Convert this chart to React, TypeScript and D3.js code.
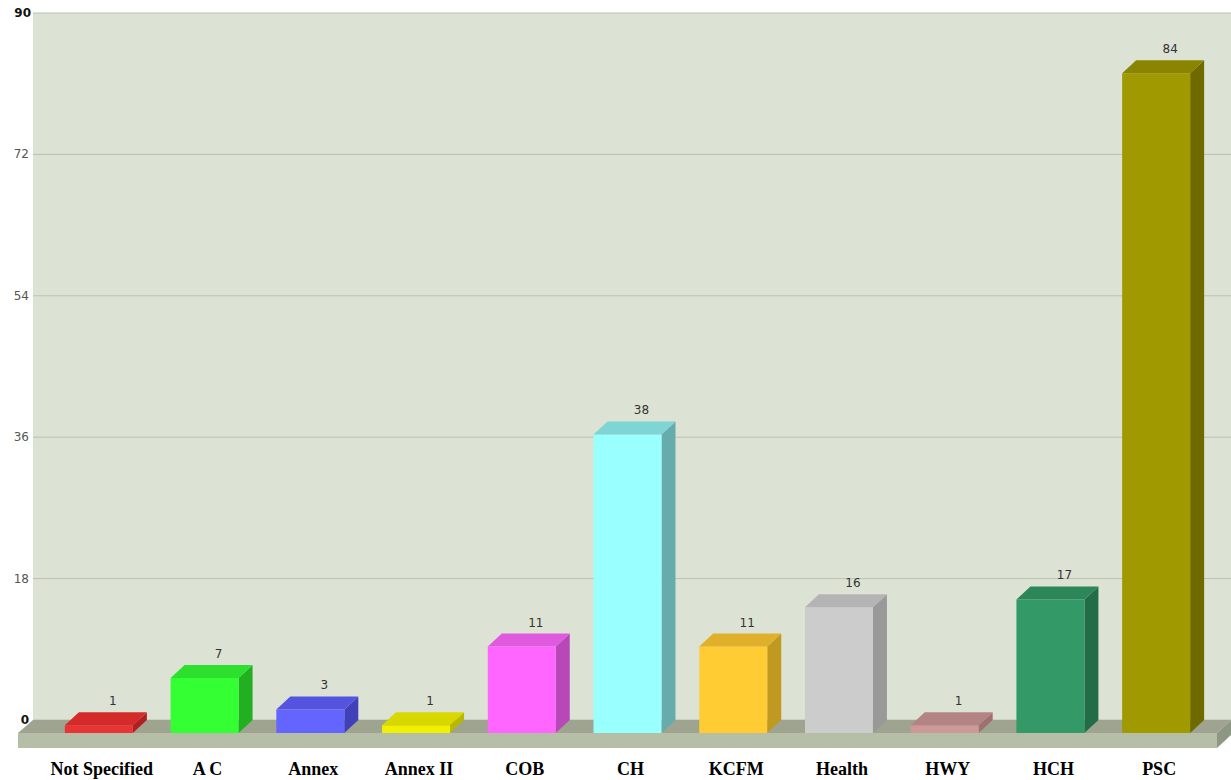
import React from "react";
import * as d3 from "d3";

const categories = ["Not Specified", "A C", "Annex", "Annex II", "COB", "CH", "KCFM", "Health", "HWY", "HCH", "PSC"];
const values = [1, 7, 3, 1, 11, 38, 11, 16, 1, 17, 84];
const frontColors = ["#e83434", "#33ff33", "#6464ff", "#f0f000", "#ff66ff", "#99ffff", "#ffcc33", "#cccccc", "#cc9999", "#339966", "#a09a00"];
const topColors = ["#d42a2a", "#2ee02e", "#5454e0", "#d8d800", "#e05ae0", "#7fd4d4", "#e0b02a", "#b4b4b4", "#b48484", "#2d8658", "#8a8500"];
const sideColors = ["#b02020", "#22b022", "#4040b8", "#b8b800", "#b848b8", "#66acac", "#c09a20", "#999999", "#a07070", "#236c48", "#6e6a00"];
const yTicks = [0, 18, 36, 54, 72, 90];

const W = 1231;
const H = 780;
const DX = 14;
const DY = 13;

export default function App() {
  const y = d3.scaleLinear().domain([0, 90]).range([720, 13]);
  const x = d3.scaleBand<string>().domain(categories).range([12, 1243]).paddingInner(0.357).paddingOuter(0.5);
  const bw = x.bandwidth();
  const wallL = 33;
  const wallR = W;
  const y0 = y(0);
  const FH = 15;

  return (
    <svg width={W} height={H} style={{ position: "absolute", left: 0, top: 0, background: "#fff" }}>
      {/* back wall */}
      <rect x={wallL} y={y(90)} width={wallR - wallL} height={y0 - y(90)} fill="#dde3d4" />
      {yTicks.map((t) => (
        <line key={t} x1={wallL} x2={wallR} y1={y(t)} y2={y(t)} stroke="#bac1ae" strokeWidth={1} />
      ))}
      {yTicks.map((t) => (
        <text
          key={"l" + t}
          x={t === 90 ? 31 : 29}
          y={y(t) + 4}
          textAnchor="end"
          fontFamily="DejaVu Sans, sans-serif"
          fontSize={12}
          fontWeight={t === 90 || t === 0 ? "bold" : "normal"}
          fill={t === 90 || t === 0 ? "#111" : "#555"}
        >
          {t}
        </text>
      ))}
      {/* floor */}
      <polygon
        points={`${wallL},${y0} ${wallR},${y0} ${wallR - DX},${y0 + DY} ${wallL - DX - 1},${y0 + DY}`}
        fill="#9ea490"
      />
      <rect x={wallL - DX - 1} y={y0 + DY} width={wallR - DX - wallL + DX + 1} height={FH} fill="#b7bea7" />
      <polygon
        points={`${wallR - DX},${y0 + DY} ${wallR},${y0} ${wallR},${y0 + FH} ${wallR - DX},${y0 + DY + FH}`}
        fill="#8e9684"
      />
      {/* bars */}
      {categories.map((c, i) => {
        const bx = x(c)!;
        const yv = y(values[i]);
        const front = `${bx},${yv + DY} ${bx + bw},${yv + DY} ${bx + bw},${y0 + DY} ${bx},${y0 + DY}`;
        const top = `${bx},${yv + DY} ${bx + DX},${yv} ${bx + bw + DX},${yv} ${bx + bw},${yv + DY}`;
        const side = `${bx + bw},${yv + DY} ${bx + bw + DX},${yv} ${bx + bw + DX},${y0} ${bx + bw},${y0 + DY}`;
        return (
          <g key={c}>
            <polygon points={side} fill={sideColors[i]} />
            <polygon points={front} fill={frontColors[i]} />
            <polygon points={top} fill={topColors[i]} />
            <text
              x={bx + bw / 2 + DX}
              y={yv - 7}
              textAnchor="middle"
              fontFamily="DejaVu Sans, sans-serif"
              fontSize={12}
              fill="#333"
            >
              {values[i]}
            </text>
          </g>
        );
      })}
      {/* category labels */}
      {categories.map((c) => (
        <text
          key={"c" + c}
          x={x(c)! + bw / 2 + 3}
          y={775}
          textAnchor="middle"
          fontFamily="Liberation Serif, Times New Roman, serif"
          fontWeight="bold"
          fontSize={18}
          fill="#000"
        >
          {c}
        </text>
      ))}
    </svg>
  );
}
